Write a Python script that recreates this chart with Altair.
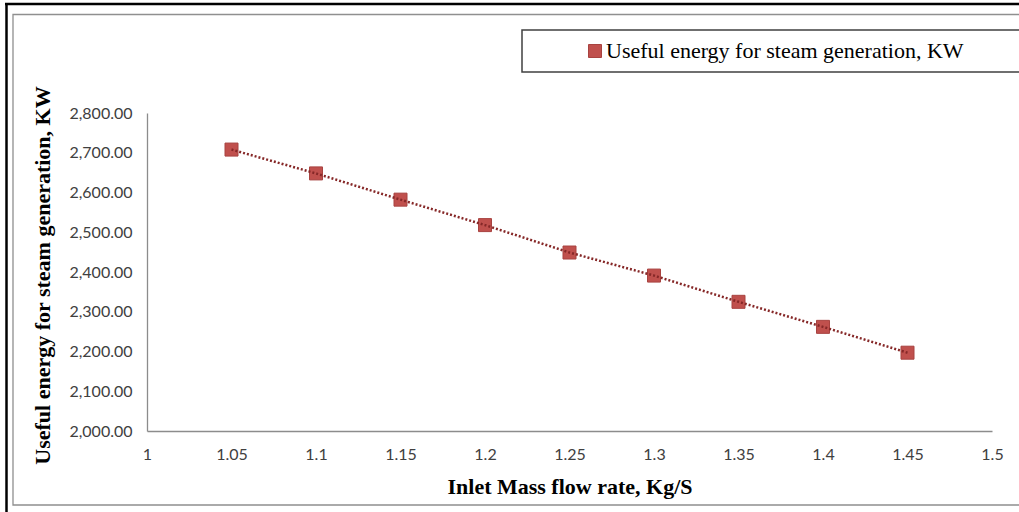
import altair as alt
import pandas as pd

# ---- data ----
mass_flow = [1.05, 1.10, 1.15, 1.20, 1.25, 1.30, 1.35, 1.40, 1.45]
useful_energy = [2708, 2648, 2582, 2518, 2449, 2391, 2325, 2262, 2197]
series_name = "Useful energy for steam generation, KW"
x_ticks = [1.0, 1.05, 1.1, 1.15, 1.2, 1.25, 1.3, 1.35, 1.4, 1.45, 1.5]
y_ticks = [2000.0, 2100.0, 2200.0, 2300.0, 2400.0, 2500.0, 2600.0, 2700.0, 2800.0]

df = pd.DataFrame({"x": mass_flow, "y": useful_energy, "series": [series_name] * len(mass_flow)})

PW, PH = 845, 318
PL, PT = 147, 113

x_enc = alt.X(
    "x:Q",
    scale=alt.Scale(domain=[1.0, 1.5], nice=False, zero=False),
    axis=alt.Axis(
        values=x_ticks, format=".2~f", grid=False, ticks=False,
        domainColor="#8c8c8c", domainWidth=1.3,
        labelFont="Lato", labelFontSize=16, labelColor="#404040", labelPadding=23,
        labelBaseline="middle", labelFlush=False, labelOverlap=False,
        title="Inlet Mass flow rate, Kg/S", titleFont="Liberation Serif", titleFontSize=22,
        titleFontWeight="bold", titleColor="black", titleBaseline="alphabetic",
        titleY=62,
    ),
)
y_enc = alt.Y(
    "y:Q",
    scale=alt.Scale(domain=[2000, 2800], nice=False, zero=False),
    axis=alt.Axis(
        values=y_ticks, tickCount=9, format=",.2f", grid=False, ticks=False,
        domainColor="#8c8c8c", domainWidth=1.3,
        labelFont="Lato", labelFontSize=16, labelColor="#404040", labelPadding=15,
        labelOverlap=False, labelFlush=False, labelBound=False,
        title=series_name, titleFont="Liberation Serif", titleFontSize=22,
        titleFontWeight="bold", titleColor="black", titleBaseline="alphabetic",
        titleX=-98, titleY=162,
    ),
)

points = alt.Chart(df).mark_point(
    shape="square", filled=True, size=169, opacity=1, stroke="#a84340", strokeWidth=1
).encode(
    x=x_enc,
    y=y_enc,
    color=alt.Color(
        "series:N",
        scale=alt.Scale(range=["#C0504D"]),
        legend=alt.Legend(
            orient="none", legendX=375, legendY=-83, title=None,
            symbolType="square", symbolSize=169, symbolStrokeColor="#a84340", symbolStrokeWidth=1,
            labelFont="Liberation Serif", labelFontSize=22, labelColor="black",
            labelLimit=0, padding=10, symbolOffset=52, labelOffset=0,
        ),
    ),
)

line = alt.Chart(df).mark_line(
    color="#862828", strokeWidth=2.5, strokeDash=[2, 2]
).encode(x=x_enc, y=y_enc)

# frame decoration (outer screenshot borders and legend box)
frame_df = pd.DataFrame({"k": [0]})
gray_box = alt.Chart(frame_df).mark_rect(fill=None, stroke="#8f8f8f", strokeWidth=1.3).encode(
    x=alt.value(13 - PL), x2=alt.value(1040 - PL), y=alt.value(14.5 - PT), y2=alt.value(505 - PT)
)
black_top = alt.Chart(frame_df).mark_rule(color="black", strokeWidth=2.5).encode(
    x=alt.value(5 - PL), x2=alt.value(1030 - PL), y=alt.value(4 - PT)
)
black_left = alt.Chart(frame_df).mark_rule(color="black", strokeWidth=2.5).encode(
    x=alt.value(6.5 - PL), y=alt.value(3 - PT), y2=alt.value(520 - PT)
)
legend_box = alt.Chart(frame_df).mark_rect(fill="white", stroke="#404040", strokeWidth=1.5).encode(
    x=alt.value(522 - PL), x2=alt.value(1040 - PL), y=alt.value(30 - PT), y2=alt.value(72 - PT)
)

chart = alt.layer(gray_box, black_top, black_left, legend_box, points, line).properties(
    width=PW, height=PH,
    autosize=alt.AutoSizeParams(type="none"),
    padding={"left": PL, "top": PT, "right": 1019 - PL - PW, "bottom": 512 - PT - PH},
    background="white",
).configure_view(stroke=None).configure_axis(labelOverlap=False)

chart.save("out.html", embed_options={"renderer": "svg", "actions": False})
